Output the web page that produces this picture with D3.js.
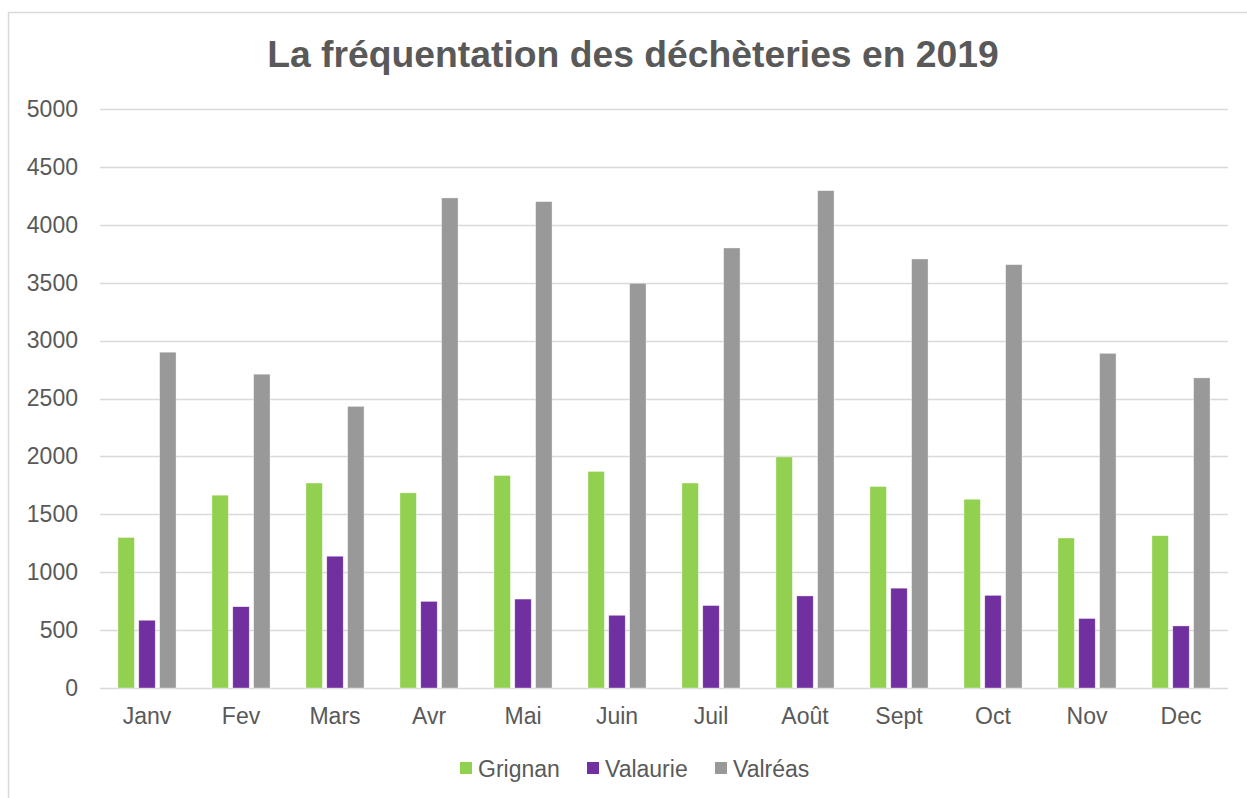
<!DOCTYPE html>
<html>
<head>
<meta charset="utf-8">
<script src="https://cdn.jsdelivr.net/npm/d3@7"></script>
<style>
  html, body { margin: 0; padding: 0; background: #fff; }
  svg { display: block; font-family: Arial, "Liberation Sans", sans-serif; }
</style>
</head>
<body>
<svg id="chart" width="1247" height="798"></svg>
<script>
const categories = ["Janv", "Fev", "Mars", "Avr", "Mai", "Juin", "Juil", "Août", "Sept", "Oct", "Nov", "Dec"];
const seriesNames = ["Grignan", "Valaurie", "Valréas"];
const grignan  = [1300, 1665, 1770, 1685, 1835, 1870, 1770, 1995, 1740, 1630, 1295, 1315];
const valaurie = [585, 702, 1138, 748, 768, 628, 712, 795, 862, 800, 600, 536];
const valreas  = [2900, 2710, 2432, 4232, 4200, 3495, 3800, 4295, 3705, 3656, 2890, 2678];
const yTicks = [0, 500, 1000, 1500, 2000, 2500, 3000, 3500, 4000, 4500, 5000];
const colors = ["#92D050", "#7030A0", "#999999"];
const title = "La fréquentation des déchèteries en 2019";

const seriesValues = [grignan, valaurie, valreas];
const svg = d3.select("#chart");
const textColor = "#595959";
const gridColor = "#D9D9D9";

// chart border
svg.append("rect")
  .attr("x", 8.5).attr("y", 12.5)
  .attr("width", 1260).attr("height", 800)
  .attr("fill", "#fff").attr("stroke", gridColor).attr("stroke-width", 1.5);

const plot = { left: 100, right: 1228, top: 109, bottom: 688 };

const x = d3.scaleBand().domain(categories).range([plot.left, plot.right]).padding(0);
const y = d3.scaleLinear().domain([0, 5000]).range([plot.bottom, plot.top]);

// title
svg.append("text")
  .attr("x", 633).attr("y", 67)
  .attr("text-anchor", "middle")
  .attr("font-size", 37.3).attr("font-weight", "bold")
  .attr("fill", textColor)
  .text(title);

// gridlines
svg.append("g").selectAll("line").data(yTicks).join("line")
  .attr("x1", plot.left).attr("x2", plot.right)
  .attr("y1", d => Math.round(y(d)) + 0.5).attr("y2", d => Math.round(y(d)) + 0.5)
  .attr("stroke", gridColor).attr("stroke-width", 1.5);

// y axis labels
const yAxis = d3.axisLeft(y).tickValues(yTicks).tickFormat(d3.format("d")).tickSize(0).tickPadding(22);
const gy = svg.append("g").attr("transform", `translate(${plot.left},0)`).call(yAxis);
gy.select(".domain").remove();
gy.selectAll("text").attr("font-size", 23).attr("fill", textColor)
  .attr("font-family", "Arial, 'Liberation Sans', sans-serif");

// bars
const bw = x.bandwidth() / 5.73;
const step = bw * 1.27;
const groupW = bw * 3 + bw * 0.27 * 2;
seriesValues.forEach((vals, si) => {
  svg.append("g").selectAll("rect").data(vals).join("rect")
    .attr("x", (d, i) => x(categories[i]) + x.bandwidth() / 2 - groupW / 2 + si * step)
    .attr("y", d => y(d))
    .attr("width", bw)
    .attr("height", d => y(0) - y(d))
    .attr("fill", colors[si])
    .attr("stroke", "#ffffff").attr("stroke-width", 0.6).attr("stroke-opacity", 0.6);
});

// x axis labels
const xAxis = d3.axisBottom(x).tickSize(0).tickPadding(20);
const gx = svg.append("g").attr("transform", `translate(0,${plot.bottom})`).call(xAxis);
gx.select(".domain").remove();
gx.selectAll("text").attr("font-size", 23).attr("fill", textColor)
  .attr("font-family", "Arial, 'Liberation Sans', sans-serif");

// legend
const legendX = [460, 587, 715];
const legend = svg.append("g");
seriesNames.forEach((name, i) => {
  legend.append("rect")
    .attr("x", legendX[i]).attr("y", 762)
    .attr("width", 12).attr("height", 12)
    .attr("fill", colors[i]);
  legend.append("text")
    .attr("x", legendX[i] + 18).attr("y", 776.5)
    .attr("font-size", 23).attr("fill", textColor)
    .text(name);
});
</script>
</body>
</html>
